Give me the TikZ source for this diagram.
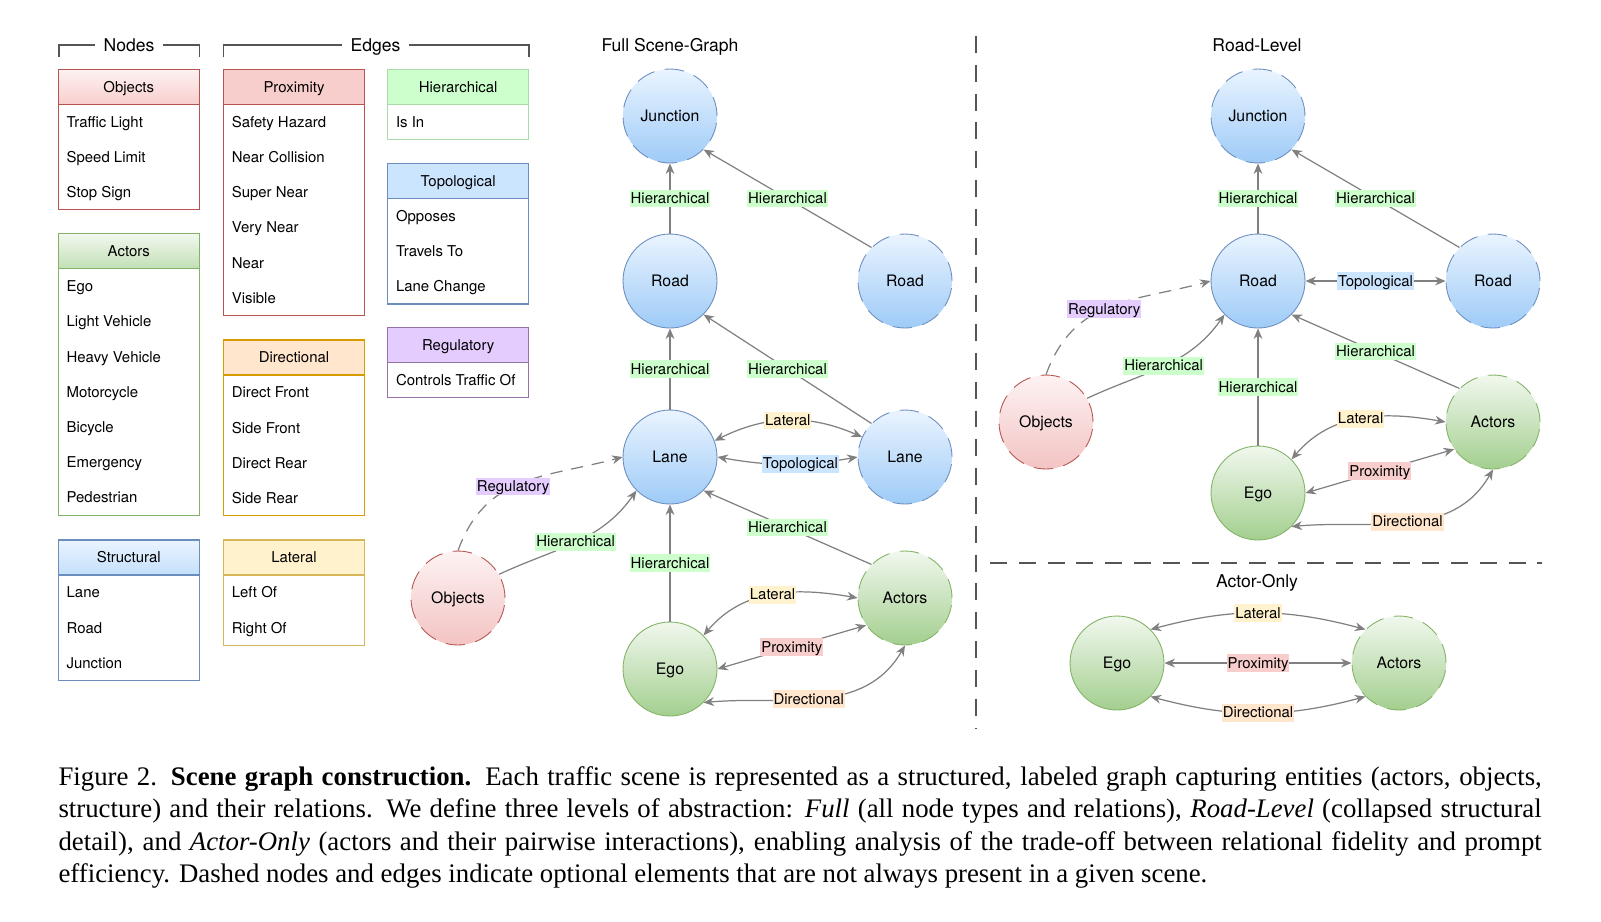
\documentclass[tikz,border=0pt]{standalone}
\usepackage{fontspec}
\setmainfont{Liberation Serif}
\newfontfamily\diagfont{TeX Gyre Heros}
\usetikzlibrary{arrows.meta}

\definecolor{edgegray}{HTML}{808080}
\definecolor{sepgray}{HTML}{555555}
\definecolor{bluebd}{HTML}{6C8EBF}
\definecolor{greenbd}{HTML}{82B366}
\definecolor{redbd}{HTML}{B85450}
\definecolor{orangebd}{HTML}{D79B00}
\definecolor{yellowbd}{HTML}{D6B656}
\definecolor{purplebd}{HTML}{9673A6}
\definecolor{hierbd}{HTML}{A8DBA8}
\definecolor{proxfill}{HTML}{F8CECC}
\definecolor{hierfill}{HTML}{CCFFCC}
\definecolor{topofill}{HTML}{CCE5FF}
\definecolor{dirfill}{HTML}{FFE6CC}
\definecolor{latfill}{HTML}{FFF2CC}
\definecolor{regfill}{HTML}{E5CCFF}
\definecolor{bluetop}{HTML}{EAF4FF}
\definecolor{bluebot}{HTML}{9ECBF7}
\definecolor{greentop}{HTML}{F1F8EE}
\definecolor{greenbot}{HTML}{A3CF8F}
\definecolor{redtop}{HTML}{FDF2F2}
\definecolor{redbot}{HTML}{F3C3C3}

\tikzset{
  scenenode/.style={circle, minimum size=1.88cm, inner sep=0pt, line width=0.5pt, text height=6.5pt, text depth=0pt, font=\diagfont\fontsize{9}{11}\selectfont},
  structnode/.style={scenenode, draw=bluebd, top color=bluetop, bottom color=bluebot},
  actornode/.style={scenenode, draw=greenbd, top color=greentop, bottom color=greenbot},
  objnode/.style={scenenode, draw=redbd, top color=redtop, bottom color=redbot},
  optnode/.style={dash pattern=on 11pt off 6pt},
  rel/.style={draw=edgegray, line width=0.7pt, -{Stealth[length=6pt,width=5pt]}},
  birel/.style={rel, {Stealth[length=6pt,width=5pt]}-{Stealth[length=6pt,width=5pt]}},
  optrel/.style={dash pattern=on 7pt off 5pt},
  lbl/.style={font=\diagfont\fontsize{8.5}{10}\selectfont, inner xsep=0.5pt, inner ysep=0.3pt, text height=7.6pt, text depth=1.9pt},
  hierlbl/.style={lbl, fill=hierfill},
  latlbl/.style={lbl, fill=latfill},
  topolbl/.style={lbl, fill=topofill},
  reglbl/.style={lbl, fill=regfill},
  proxlbl/.style={lbl, fill=proxfill},
  dirlbl/.style={lbl, fill=dirfill},
  graphtitle/.style={font=\diagfont\fontsize{10}{12}\selectfont, text height=7.2pt, text depth=0pt},
  bracket/.style={draw=sepgray, line width=0.6pt},
  boxhead/.style={anchor=north west, minimum width=2.82cm, minimum height=0.7cm, inner sep=0pt, outer sep=0pt, line width=0.65pt, text height=6.1pt, text depth=0pt, font=\diagfont\fontsize{8.5}{10}\selectfont},
  boxrow/.style={anchor=west, inner sep=0pt, text height=6.1pt, text depth=0pt, font=\diagfont\fontsize{8.5}{10}\selectfont},
  boxline/.style={line width=0.65pt},
  separator/.style={draw=sepgray, line width=0.9pt, dash pattern=on 9.6pt off 6.8pt},
  caption/.style={anchor=base west, text width=29.67cm, inner sep=0pt, align=justify, font=\fontsize{15.25}{18.5}\selectfont}
}

% legend box: name, x, y, border, header look, title, rows, number of rows
\newcommand{\legendbox}[8]{%
  \node[boxhead, draw=#4, #5] (#1) at (#2,#3) {#6};
  \foreach \entry [count=\k] in {#7}
    \node[boxrow] (#1-\k) at ({#2+8},{#3+35+35.2*\k-17.6}) {\entry};
  \draw[boxline, draw=#4] (#2,#3) rectangle ({#2+141},{#3+35+35.2*#8});
}

\begin{document}
\begin{tikzpicture}[x=0.02cm, y=-0.02cm]
\useasboundingbox (0,0) rectangle (1601,921);

% legend
\node[graphtitle, inner xsep=4.5pt] (nodesT) at (129,45) {Nodes};
\draw[bracket] (59,57) |- (nodesT.west);
\draw[bracket] (nodesT.east) -| (199.3,57);
\node[graphtitle, inner xsep=4.5pt] (edgesT) at (375.5,45) {Edges};
\draw[bracket] (223.5,57) |- (edgesT.west);
\draw[bracket] (edgesT.east) -| (529,57);

\legendbox{objectsL}{58.3}{69.3}{redbd}{top color=redtop, bottom color=proxfill}{Objects}{Traffic Light, Speed Limit, Stop Sign}{3}
\legendbox{actorsL}{58.3}{233.8}{greenbd}{top color=greentop, bottom color=greentop!40!greenbot}{Actors}{Ego, Light Vehicle, Heavy Vehicle, Motorcycle, Bicycle, Emergency, Pedestrian}{7}
\legendbox{structL}{58.3}{540}{bluebd}{top color=bluetop, bottom color=bluetop!50!bluebot}{Structural}{Lane, Road, Junction}{3}
\legendbox{proxL}{223.5}{69.3}{redbd}{fill=proxfill}{Proximity}{Safety Hazard, Near Collision, Super Near, Very Near, Near, Visible}{6}
\legendbox{dirL}{223.5}{340}{orangebd}{fill=dirfill}{Directional}{Direct Front, Side Front, Direct Rear, Side Rear}{4}
\legendbox{latL}{223.5}{540}{yellowbd}{fill=latfill}{Lateral}{Left Of, Right Of}{2}
\legendbox{hierL}{387.7}{69.3}{hierbd}{fill=hierfill}{Hierarchical}{Is In}{1}
\legendbox{topoL}{387.7}{163.4}{bluebd}{fill=topofill}{Topological}{Opposes, Travels To, Lane Change}{3}
\legendbox{regL}{387.7}{327.7}{purplebd}{fill=regfill}{Regulatory}{Controls Traffic Of}{1}

% full scene-graph
\node[graphtitle] (fullT) at (670,45) {Full Scene-Graph};
\node[structnode, optnode] (junctionF) at (670,116) {Junction};
\node[structnode] (roadF) at (670,281) {Road};
\node[structnode, optnode] (roadFb) at (905,281) {Road};
\node[structnode] (laneF) at (670,457) {Lane};
\node[structnode, optnode] (laneFb) at (905,457) {Lane};
\node[objnode, optnode] (objectsF) at (458,598) {Objects};
\node[actornode, optnode] (actorsF) at (905,598) {Actors};
\node[actornode] (egoF) at (670,669) {Ego};

\draw[rel] (roadF) -- node[hierlbl] {Hierarchical} (junctionF);
\draw[rel] (roadFb.135) -- node[hierlbl] {Hierarchical} (junctionF.-45);
\draw[rel] (laneF) -- node[hierlbl] {Hierarchical} (roadF);
\draw[rel] (laneFb.135) -- node[hierlbl] {Hierarchical} (roadF.-45);
\draw[birel] (laneF.20) to[bend left=25] node[latlbl] {Lateral} (laneFb.155);
\draw[birel] (laneF.east) to[bend right=10] node[topolbl, pos=0.6] {Topological} (laneFb.west);
\draw[rel, optrel] (objectsF.north) to[out=70, in=195, looseness=1.1] node[reglbl, pos=0.45] {Regulatory} (laneF.west);
\draw[rel] (objectsF.30) to[out=25, in=235] node[hierlbl] {Hierarchical} (laneF.225);
\draw[rel] (egoF) -- node[hierlbl] {Hierarchical} (laneF);
\draw[rel] (actorsF.135) -- node[hierlbl] {Hierarchical} (laneF.-45);
\draw[birel] (egoF.45) to[out=50, in=170] node[latlbl] {Lateral} (actorsF.west);
\draw[birel] (egoF.east) -- node[proxlbl] {Proximity} (actorsF.215);
\draw[birel] (egoF.-45) to[out=5, in=-120] node[dirlbl, pos=0.45] {Directional} (actorsF.south);

% separators
\draw[separator] (976,36) -- (976,728);
\draw[separator] (990,563) -- (1542,563);

% road-level
\node[graphtitle] (roadT) at (1257,45) {Road-Level};
\node[structnode, optnode] (junctionR) at (1258,116) {Junction};
\node[structnode] (roadR) at (1258,281) {Road};
\node[structnode, optnode] (roadRb) at (1493,281) {Road};
\node[objnode, optnode] (objectsR) at (1046,422) {Objects};
\node[actornode, optnode] (actorsR) at (1493,422) {Actors};
\node[actornode] (egoR) at (1258,493) {Ego};

\draw[rel] (roadR) -- node[hierlbl] {Hierarchical} (junctionR);
\draw[rel] (roadRb.135) -- node[hierlbl] {Hierarchical} (junctionR.-45);
\draw[birel] (roadR) -- node[topolbl] {Topological} (roadRb);
\draw[rel, optrel] (objectsR.north) to[out=70, in=195, looseness=1.1] node[reglbl, pos=0.47] {Regulatory} (roadR.west);
\draw[rel] (objectsR.30) to[out=25, in=235] node[hierlbl] {Hierarchical} (roadR.225);
\draw[rel] (egoR) -- node[hierlbl] {Hierarchical} (roadR);
\draw[rel] (actorsR.135) -- node[hierlbl] {Hierarchical} (roadR.-45);
\draw[birel] (egoR.45) to[out=50, in=170] node[latlbl] {Lateral} (actorsR.west);
\draw[birel] (egoR.east) -- node[proxlbl] {Proximity} (actorsR.215);
\draw[birel] (egoR.-45) to[out=5, in=-120] node[dirlbl, pos=0.5] {Directional} (actorsR.south);

% actor-only
\node[graphtitle] (actorT) at (1257,581) {Actor-Only};
\node[actornode] (egoA) at (1117,663) {Ego};
\node[actornode, optnode] (actorsA) at (1399,663) {Actors};

\draw[birel] (egoA.45) to[bend left=15] node[latlbl] {Lateral} (actorsA.135);
\draw[birel] (egoA) -- node[proxlbl] {Proximity} (actorsA);
\draw[birel] (egoA.-45) to[bend right=15] node[dirlbl] {Directional} (actorsA.-135);

% caption
\node[caption] (cap) at (58.2,785) {Figure 2. \textbf{Scene graph construction.} Each traffic scene is represented as a structured, labeled graph capturing entities (actors, objects, structure) and their relations. We define three levels of abstraction: \textit{Full} (all node types and relations), \textit{Road-Level} (collapsed structural detail), and \textit{Actor-Only} (actors and their pairwise interactions), enabling analysis of the trade-off between relational fidelity and prompt efficiency. Dashed nodes and edges indicate optional elements that are not always present in a given scene.};
\end{tikzpicture}
\end{document}
